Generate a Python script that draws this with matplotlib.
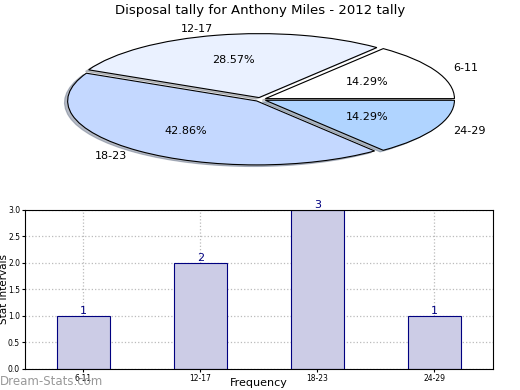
import matplotlib
matplotlib.use('Agg')
import matplotlib.pyplot as plt
import numpy as np

# data
groups = ['6-11', '12-17', '18-23', '24-29']
counts = [1, 2, 3, 1]
pie_colors = ['#ffffff', '#eaf1ff', '#c4d8ff', '#b0d4ff']

fig = plt.figure(figsize=(5.2, 3.9), dpi=100)

# pie on top
ax1 = fig.add_axes([0.046, 0.54, 0.909, 0.41])
wedges, texts, autotexts = ax1.pie(counts, labels=groups, colors=pie_colors,
                                   explode=[0.03] * len(counts),
                                   shadow={'ox': -0.012, 'oy': -0.018, 'shade': 0.45},
                                   autopct='%.2f%%', pctdistance=0.6,
                                   labeldistance=1.1, startangle=0,
                                   wedgeprops={'edgecolor': 'black', 'linewidth': 0.8},
                                   textprops={'fontsize': 8})
ax1.set_aspect('auto')
ax1.set_xlim(-1.25, 1.25)
ax1.set_ylim(-1.25, 1.25)
fig.text(0.5, 0.972, 'Disposal tally for Anthony Miles - 2012 tally',
         ha='center', va='center', fontsize=9.5)

# bar chart below
ax2 = fig.add_axes([0.048, 0.054, 0.9, 0.408])
x = np.arange(len(groups))
ax2.bar(x, counts, width=0.45, color='#ccccE6', edgecolor='navy', linewidth=0.8, zorder=2)
for xi, c in zip(x, counts):
    ax2.text(xi, c, str(c), ha='center', va='bottom', color='navy', fontsize=8)
ax2.set_xlim(-0.5, len(groups) - 0.5)
ax2.set_ylim(0, 3)
ax2.set_yticks(np.arange(0, 3.01, 0.5))
ax2.set_xticks(x)
ax2.set_xticklabels(groups)
ax2.tick_params(labelsize=5.5, length=2, pad=1.5)
ax2.grid(True, linestyle=':', color='#bbbbbb', linewidth=0.9, zorder=3)
for sp in ax2.spines.values():
    sp.set_zorder(4)
ax2.set_ylabel('Stat intervals', fontsize=7.5, va='center')
ax2.yaxis.set_label_coords(-0.045, 0.5)
ax2.set_xlabel('Frequency', fontsize=8, va='center')
ax2.xaxis.set_label_coords(0.5, -0.09)

fig.text(0.0, 0.022, 'Dream-Stats.com', color='#999999', fontsize=8.5,
         ha='left', va='center')

fig.savefig('out.png', dpi=100)
